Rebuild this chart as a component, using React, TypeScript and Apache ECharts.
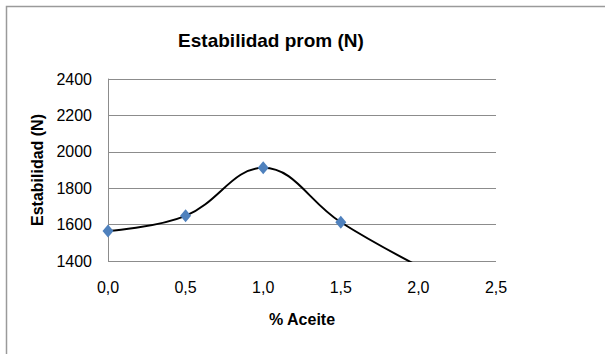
import React, { useEffect, useRef } from "react";
import * as echarts from "echarts";

const xValues = [0, 0.5, 1.0, 1.5, 2.0];
const yValues = [1565, 1648, 1912, 1613, 1372];
const xTicks = { min: 0, max: 2.5, interval: 0.5 };
const yTicks = { min: 1400, max: 2400, interval: 200 };
const titleText = "Estabilidad prom (N)";
const xName = "% Aceite";
const yName = "Estabilidad (N)";

export default function App() {
  const ref = useRef<HTMLDivElement>(null);
  useEffect(() => {
    if (!ref.current) return;
    const chart = echarts.init(ref.current, null, { renderer: "svg" });
    const font = "Liberation Sans, Arial, sans-serif";
    chart.setOption({
      animation: false,
      backgroundColor: "#ffffff",
      textStyle: { fontFamily: font },
      title: {
        text: titleText,
        left: 266,
        top: 26,
        textAlign: "center",
        textStyle: { fontSize: 19, fontWeight: "bold", color: "#000", fontFamily: font },
      },
      graphic: [
        {
          type: "rect",
          shape: { x: 6.5, y: 6.5, width: 700, height: 400 },
          style: { fill: "none", stroke: "#9a9a9a", lineWidth: 1.5 },
          silent: true,
        },
      ],
      grid: { left: 108, right: 109, top: 79, bottom: 93, containLabel: false },
      xAxis: {
        type: "value",
        min: xTicks.min,
        max: xTicks.max,
        interval: xTicks.interval,
        name: xName,
        nameLocation: "middle",
        nameGap: 50,
        nameTextStyle: { fontSize: 16, fontWeight: "bold", color: "#000", fontFamily: font },
        axisLine: { show: false },
        axisTick: { show: false },
        splitLine: { show: false },
        axisLabel: {
          margin: 18,
          fontSize: 16,
          color: "#000",
          fontFamily: font,
          formatter: (v: number) => v.toFixed(1).replace(".", ","),
        },
      },
      yAxis: {
        type: "value",
        min: yTicks.min,
        max: yTicks.max,
        interval: yTicks.interval,
        name: yName,
        nameLocation: "middle",
        nameGap: 60,
        nameTextStyle: { fontSize: 16, fontWeight: "bold", color: "#000", fontFamily: font },
        axisLine: { show: true, lineStyle: { color: "#8c8c8c", width: 1 } },
        axisTick: { show: false },
        splitLine: { show: true, lineStyle: { color: "#8c8c8c", width: 1 } },
        axisLabel: {
          margin: 16,
          fontSize: 16,
          color: "#000",
          fontFamily: font,
          formatter: (v: number) => String(v),
        },
      },
      series: [
        {
          type: "line",
          data: xValues.map((x, i) => [x, yValues[i]]),
          smooth: 0.4,
          clip: true,
          symbol: "diamond",
          symbolSize: [11, 13],
          itemStyle: { color: "#4F81BD" },
          lineStyle: { color: "#000", width: 2 },
          z: 3,
        },
      ],
    });
    return () => chart.dispose();
  }, []);
  return (
    <div
      ref={ref}
      style={{ position: "fixed", left: 0, top: 0, width: 605, height: 354 }}
    />
  );
}
